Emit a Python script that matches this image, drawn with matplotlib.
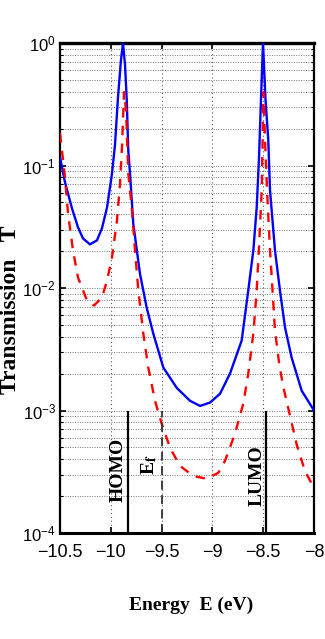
import numpy as np
import matplotlib
matplotlib.use('Agg')
import matplotlib.pyplot as plt
from matplotlib import font_manager

'''DATA READ FROM THE PICTURE'''
E_blue = [-10.500, -10.451, -10.382, -10.323, -10.274, -10.205, -10.136, -10.087, -10.037,
          -9.988, -9.959, -9.929, -9.900, -9.880, -9.860, -9.843, -9.828, -9.811, -9.779,
          -9.713, -9.647, -9.582, -9.483, -9.351, -9.220, -9.122, -9.024, -8.925, -8.827,
          -8.712, -8.647, -8.597, -8.564, -8.541, -8.522, -8.502, -8.477, -8.450, -8.433,
          -8.384, -8.335, -8.285, -8.220, -8.121, -8.000]
T_blue = [0.1168, 0.0730, 0.0447, 0.0313, 0.0254, 0.0227, 0.0245, 0.0307, 0.0455,
          0.0864, 0.1465, 0.362, 0.726, 1.0, 0.661, 0.342, 0.133, 0.0864, 0.0337,
          0.0131, 0.00692, 0.00425, 0.00224, 0.00153, 0.00120, 0.00109, 0.00116, 0.00137, 0.00200,
          0.00372, 0.00955, 0.0203, 0.0455, 0.1168, 0.342, 1.0, 0.342, 0.161, 0.0628,
          0.0203, 0.00955, 0.00475, 0.00270, 0.00145, 0.00100]

E_red = [-10.500, -10.451, -10.421, -10.372, -10.323, -10.234, -10.165, -10.087, -10.037,
         -9.988, -9.939, -9.909, -9.890, -9.870, -9.850, -9.828, -9.794, -9.762, -9.729,
         -9.680, -9.631, -9.565, -9.499, -9.417, -9.319, -9.188, -9.056, -8.942, -8.876,
         -8.778, -8.696, -8.647, -8.597, -8.564, -8.538, -8.515, -8.497, -8.482, -8.462,
         -8.433, -8.408, -8.384, -8.344, -8.305, -8.236, -8.167, -8.089, -8.000]
T_red = [0.1836, 0.0801, 0.0407, 0.0203, 0.0122, 0.0079, 0.0072, 0.00836, 0.0115,
         0.0178, 0.0357, 0.0716, 0.141, 0.397, 0.283, 0.0864, 0.0455, 0.0203, 0.00955,
         0.00425, 0.00224, 0.00120, 0.00078, 0.000496, 0.000353, 0.000292, 0.000277, 0.000310, 0.000388,
         0.000646, 0.00114, 0.00200, 0.00425, 0.00955, 0.0245, 0.0628, 0.397, 0.161, 0.0628,
         0.0203, 0.00955, 0.00449, 0.00246, 0.00159, 0.000906, 0.000515, 0.000321, 0.000233]

level_names = ['HOMO', r'E$_{\mathbf{f}}$', 'LUMO']
level_E = [-9.834, -9.50, -8.475]
# label positions (energy, transmission) next to each level line
label_E = [-9.929, -9.624, -8.561]
label_T = [3.27e-4, 3.6e-4, 2.92e-4]

xticks = [-10.5, -10, -9.5, -9, -8.5, -8]
xticklabels = ['\u221210.5', '\u221210', '\u22129.5', '\u22129', '\u22128.5', '\u22128']

'''FONTS'''
names = {f.name for f in font_manager.fontManager.ttflist}
tick_font = 'Liberation Sans Narrow' if 'Liberation Sans Narrow' in names else 'Liberation Sans'
serif_font = 'Liberation Serif'
plt.rcParams['font.family'] = [tick_font, 'DejaVu Sans']
plt.rcParams['mathtext.fontset'] = 'stix'

'''PLOT GENERATION'''
fig = plt.figure(figsize=(3.25, 6.39), dpi=100)
ax = fig.add_axes([60 / 325, 1 - 533 / 639, 254 / 325, 490 / 639])

ax.semilogy(E_blue, T_blue, linewidth=1.7, linestyle='-', color='#0000ff', zorder=3)
ax.semilogy(E_red, T_red, linewidth=1.7, linestyle=(0, (4, 3.5)), color='#ff0000', zorder=4)

ax.vlines([level_E[0], level_E[2]], 1e-4, 1e-3, colors='black', linewidth=1.6, zorder=5)
ax.vlines([level_E[1]], 1e-4, 1e-3, colors='#333333', linewidth=1.3, linestyles=(0, (5, 3)), zorder=5)

for name, xe, yt in zip(level_names, label_E, label_T):
    ax.text(xe, yt, name, rotation=90, ha='center', va='center',
            family=serif_font, fontweight='bold', fontsize=14)

'''PLOT SETTINGS'''
ax.set_xlim(-10.5, -8)
ax.set_ylim(1e-4, 1e0)
ax.set_xticks(xticks)
ax.set_xticklabels(xticklabels)
ax.grid(True, which='both', axis='y', linestyle=(0, (1, 1.5)), color='0.45', linewidth=0.7)
ax.grid(True, which='major', axis='x', linestyle=(0, (1, 2.5)), color='0.35', linewidth=0.8)
ax.tick_params(which='both', direction='in', top=True, right=True, labelsize=13)
ax.tick_params(axis='y', labelsize=12, pad=3)
ax.tick_params(which='major', length=4, width=1.2)
ax.tick_params(which='minor', length=2, width=0.8)
ax.tick_params(axis='x', pad=8)
for s in ax.spines.values():
    s.set_linewidth(1.6)
ax.spines['top'].set_linewidth(2.4)
ax.spines['bottom'].set_linewidth(2.2)

fig.text(191 / 325, 1 - 605 / 639, 'Energy  E (eV)', ha='center', va='center',
         family=serif_font, fontweight='bold', fontsize=14)
fig.text(11 / 325, 1 - 310 / 639, 'Transmission   T', rotation=90, ha='center', va='center',
         family=serif_font, fontweight='bold', fontsize=17)

fig.savefig('out.png', dpi=100)
plt.close()
